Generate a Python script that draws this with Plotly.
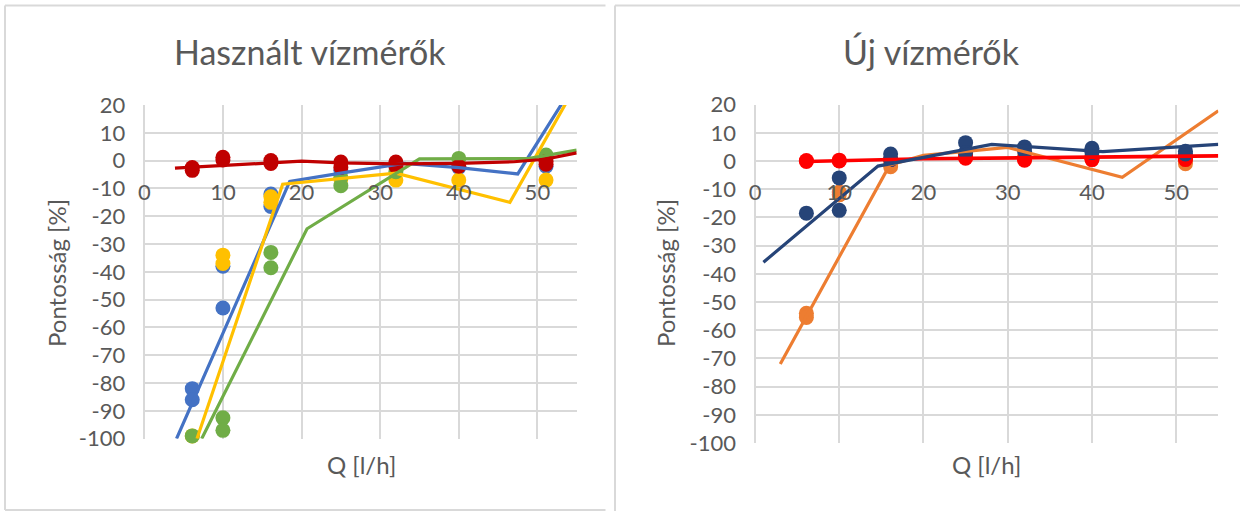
import plotly.graph_objects as go

W, H = 1240, 511

# ---------------- data: left chart "Használt vízmérők" ----------------
blue_x = [6.1, 6.1, 10, 10, 16.1, 16.1, 25, 32, 40, 51.1]
blue_y = [-82, -86, -38, -53, -12, -16.5, -3.5, -1.5, -2.5, -2]
yellow_x = [6.1, 10, 10, 16.1, 16.1, 25, 32, 40, 51.1]
yellow_y = [-99, -34, -37, -13, -15, -6.5, -7, -7, -7]
green_x = [6.1, 10, 10, 16.1, 16.1, 25, 25, 32, 40, 51.1]
green_y = [-99, -92.5, -97, -33, -38.5, -6, -9, -4, 0.8, 2]
dred_x = [6.1, 6.1, 10, 10, 16.1, 16.1, 25, 25, 32, 32, 40, 51.1, 51.1]
dred_y = [-2.5, -3.5, 1.2, 0.2, 0, -1, -0.5, -2.5, -0.5, -2, -2, -0.3, -1.3]

blue_line_x = [4.1, 18.5, 25, 33, 40, 47.5, 55]
blue_line_y = [-100, -7.5, -4.5, -1, -2.5, -4.8, 29]
yellow_line_x = [6.7, 17.6, 32, 46.5, 55]
yellow_line_y = [-100, -8.5, -4.5, -15, 27.5]
green_line_x = [7.3, 20.7, 35, 49, 55]
green_line_y = [-100, -24.5, 0.6, 0.8, 3.8]
dred_line_x = [3.9, 10, 16.5, 20, 25, 32, 40, 47, 51, 55]
dred_line_y = [-2.7, -1.8, -0.8, -0.2, -0.8, -1.2, -1.0, -0.4, 0.5, 2.8]

# ---------------- data: right chart "Új vízmérők" ----------------
orange_x = [6.1, 6.1, 10, 10, 16.1, 16.1, 25, 25, 32, 32, 40, 40, 51.1, 51.1]
orange_y = [-54, -55.5, -11, -12, -2, -1, 1.5, 2.5, 1.5, 0.5, 0.5, 1.5, -1, 0]
red_x = [6.1, 6.1, 10, 10, 16.1, 25, 25, 32, 32, 40, 40, 51.1, 51.1]
red_y = [-0.2, 0.2, 0, 0.3, 0.5, 1, 1.8, 0.3, 1, 0.5, 1.2, 1, 0.5]
navy_x = [6.1, 10, 10, 16.1, 16.1, 25, 25, 32, 32, 40, 40, 51.1, 51.1]
navy_y = [-18.5, -6, -17.5, 2.5, 0.5, 6.5, 3, 5, 3.5, 4.5, 3, 3.5, 2.5]

orange_line_x = [3.0, 16, 20, 30, 43.6, 55]
orange_line_y = [-72, -1.4, 2, 4.8, -5.8, 17.8]
red_line_x = [6.1, 10, 20, 55]
red_line_y = [-0.2, 0, 0.8, 1.8]
navy_line_x = [1.0, 14.6, 28.1, 31.4, 41.3, 55]
navy_line_y = [-35.9, -1.8, 5.9, 5.3, 3.3, 5.9]

# ---------------- axis ticks / texts ----------------
x_ticks = [0, 10, 20, 30, 40, 50]
x_tick_text = ["0", "10", "20", "30", "40", "50"]
y_ticks = [20, 10, 0, -10, -20, -30, -40, -50, -60, -70, -80, -90, -100]
y_tick_text = ["20", "10", "0", "-10", "-20", "-30", "-40", "-50", "-60", "-70", "-80", "-90", "-100"]
titles = ["Használt vízmérők", "Új vízmérők"]
y_title = "Pontosság [%]"
x_title = "Q [l/h]"

FONT = "Lato"
TXT = "#595959"
GRID = "#d9d9d9"
MS = 15
LW = 3.2

fig = go.Figure()


def markers(x, y, color, xa, ya):
    fig.add_trace(go.Scatter(x=x, y=y, mode="markers", xaxis=xa, yaxis=ya,
                             marker=dict(color=color, size=MS, line=dict(width=0)),
                             cliponaxis=False, showlegend=False, hoverinfo="skip"))


def line(x, y, color, xa, ya, w=LW):
    fig.add_trace(go.Scatter(x=x, y=y, mode="lines", xaxis=xa, yaxis=ya,
                             line=dict(color=color, width=w),
                             showlegend=False, hoverinfo="skip"))


# left
markers(blue_x, blue_y, "#4472C4", "x", "y")
markers(yellow_x, yellow_y, "#FFC000", "x", "y")
markers(green_x, green_y, "#70AD47", "x", "y")
markers(dred_x, dred_y, "#C00000", "x", "y")
line(blue_line_x, blue_line_y, "#4472C4", "x", "y")
line(yellow_line_x, yellow_line_y, "#FFC000", "x", "y")
line(green_line_x, green_line_y, "#70AD47", "x", "y")
line(dred_line_x, dred_line_y, "#C00000", "x", "y")

# right
markers(orange_x, orange_y, "#ED7D31", "x2", "y2")
markers(red_x, red_y, "#FF0000", "x2", "y2")
markers(navy_x, navy_y, "#264478", "x2", "y2")
line(orange_line_x, orange_line_y, "#ED7D31", "x2", "y2")
line(red_line_x, red_line_y, "#FF0000", "x2", "y2", 3.6)
line(navy_line_x, navy_line_y, "#264478", "x2", "y2")

# geometry (pixels)
L = dict(x0=144.3, x1=576.7, ytop=105.0, ybot=438.7)
R = dict(x0=755.0, x1=1218.3, ytop=104.6, ybot=443.0)


def px_x(p):
    return p / W


def px_y(p):
    return 1 - p / H


def xaxis_cfg(g):
    zero_px = g["ytop"] + (g["ybot"] - g["ytop"]) * 20 / 120
    return dict(domain=[px_x(g["x0"]), px_x(g["x1"])], range=[0, 55],
                tickvals=x_ticks, ticktext=x_tick_text,
                showgrid=True, gridcolor=GRID, gridwidth=1.5,
                zeroline=True, zerolinecolor=GRID, zerolinewidth=1.5,
                showline=False, ticks="", anchor="free", position=px_y(zero_px),
                ticklabelstandoff=16, automargin=False,
                tickfont=dict(family=FONT, size=22, color=TXT), fixedrange=True)


def yaxis_cfg(g, xa):
    return dict(domain=[px_y(g["ybot"]), px_y(g["ytop"])], range=[-100, 20],
                tickvals=y_ticks, ticktext=y_tick_text, anchor=xa,
                showgrid=True, gridcolor=GRID, gridwidth=1.5,
                zeroline=True, zerolinecolor=GRID, zerolinewidth=1.5,
                showline=False, ticks="", ticklabelstandoff=18, automargin=False,
                tickfont=dict(family=FONT, size=22, color=TXT), fixedrange=True)


fig.update_layout(
    width=W, height=H, autosize=False, margin=dict(l=0, r=0, t=0, b=0, pad=0),
    paper_bgcolor="white", plot_bgcolor="white",
    font=dict(family=FONT, color=TXT),
    xaxis=xaxis_cfg(L), yaxis=yaxis_cfg(L, "x"),
    xaxis2=xaxis_cfg(R), yaxis2=yaxis_cfg(R, "x2"),
)

anns = []
for cx, t in [(310, titles[0]), (931, titles[1])]:
    anns.append(dict(text=t, x=px_x(cx), y=px_y(51), xref="paper", yref="paper",
                     showarrow=False, xanchor="center", yanchor="middle",
                     font=dict(family=FONT, size=34, color=TXT)))
for cx in [56, 665]:
    anns.append(dict(text=y_title, x=px_x(cx), y=px_y(273), xref="paper", yref="paper",
                     showarrow=False, xanchor="center", yanchor="middle", textangle=-90,
                     font=dict(family=FONT, size=24, color=TXT)))
for cx in [361, 986]:
    anns.append(dict(text=x_title, x=px_x(cx), y=px_y(464), xref="paper", yref="paper",
                     showarrow=False, xanchor="center", yanchor="middle",
                     font=dict(family=FONT, size=24, color=TXT)))
fig.update_layout(annotations=anns)

shapes = []
for (x0, y0, x1, y1) in [(5, 5.5, 605.5, 5.5), (5, 5.5, 5, 510), (5, 510, 605.5, 510),
                         (615, 5.5, 1240, 5.5), (615, 5.5, 615, 511)]:
    shapes.append(dict(type="line", xref="paper", yref="paper",
                       x0=px_x(x0), y0=px_y(y0), x1=px_x(x1), y1=px_y(y1),
                       line=dict(color=GRID, width=2)))
fig.update_layout(shapes=shapes)

fig.write_html(
    "out.html",
    config={"responsive": False, "displayModeBar": False},
    post_script="document.body.style.margin='0';document.body.style.padding='0';"
                "document.documentElement.style.overflow='hidden';",
)
